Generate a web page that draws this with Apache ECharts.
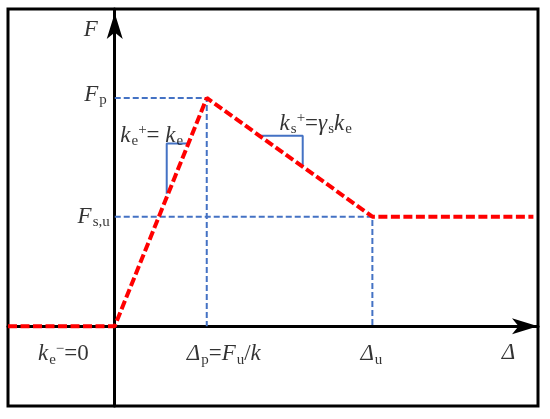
<!DOCTYPE html>
<html>
<head>
<meta charset="utf-8">
<script src="https://cdn.jsdelivr.net/npm/echarts@6/dist/echarts.min.js"></script>
<style>
  html, body { margin: 0; padding: 0; background: #fff; }
  #chart { width: 550px; height: 419px; }
</style>
</head>
<body>
<div id="chart"></div>
<script>
// force-displacement model (normalized: Δp = 1, Fp = 1)
const dispX = [-1.16, 0, 1.0, 2.8, 4.55]
const force = [0, 0, 1.0, 0.48, 0.48]
const deltaP = 1.0
const deltaU = 2.8
const forceP = 1.0
const forceSU = 0.48
const xRange = [-1.16, 4.6]
const yRange = [-0.35, 1.39]
// slope markers
const slopeUp = [[0.565, 0.58], [0.565, 0.8], [0.79, 0.8]]
const slopeDown = [[1.576, 0.834], [2.043, 0.834], [2.043, 0.7]]

const RED = '#ff0000'
const BLUE = '#4472c4'
const FONT = 'Liberation Serif'

const chart = echarts.init(document.getElementById('chart'))

const rich = {
  i: { fontStyle: 'italic', fontSize: 23, fontFamily: FONT, color: '#000' },
  n: { fontSize: 23, fontFamily: FONT, color: '#000' },
  sb: { fontSize: 15, fontFamily: FONT, color: '#000', padding: [11, 0, 0, 1] },
  sp: { fontSize: 15, fontFamily: FONT, color: '#000', padding: [0, 0, 11, 0] }
}

const curve = dispX.map((x, i) => [x, force[i]])

const notes = [
  { value: [0, yRange[1]], text: '{i|F}', position: 'left', offset: [-12, 21] },
  { value: [0, forceP], text: '{i|F}{sb|p}', position: 'left', offset: [-3, -3] },
  { value: [0, forceSU], text: '{i|F}{sb|s,u}', position: 'left', offset: [0, 0] },
  { value: [(dispX[0] + dispX[1]) / 2, 0], text: '{i|k}{sb|e}{sp|−}{n|=0}', position: 'bottom', offset: [2, 10] },
  { value: [deltaP, 0], text: '{i|Δ}{sb|p}{n|=}{i|F}{sb|u}{n|/}{i|k}', position: 'bottom', offset: [17, 10] },
  { value: [deltaU, 0], text: '{i|Δ}{sb|u}', position: 'bottom', offset: [-1, 10] },
  { value: [dispX[4], 0], text: '{i|Δ}', position: 'bottom', offset: [-25, 10] },
  { value: slopeUp[1], text: '{i|k}{sb|e}{sp|+}{n|= }{i|k}{sb|e}', position: 'top', offset: [-15, 10] },
  { value: slopeDown[1], text: '{i|k}{sb|s}{sp|+}{n|=}{i|γ}{sb|s}{i|k}{sb|e}', position: 'top', offset: [13, 6] }
]

const option = {
  backgroundColor: '#fff',
  animation: false,
  grid: {
    left: 8,
    right: 12,
    top: 9,
    bottom: 13,
    show: true,
    borderColor: '#000',
    borderWidth: 3
  },
  xAxis: {
    type: 'value',
    min: xRange[0],
    max: xRange[1],
    axisLine: {
      onZero: true,
      lineStyle: { color: '#000', width: 3 },
      symbol: ['none', 'arrow'],
      symbolSize: [12, 26],
      symbolOffset: [0, 0]
    },
    axisTick: { show: false },
    axisLabel: { show: false },
    splitLine: { show: false }
  },
  yAxis: {
    type: 'value',
    min: yRange[0],
    max: yRange[1],
    axisLine: {
      onZero: true,
      lineStyle: { color: '#000', width: 3 },
      symbol: ['none', 'arrow'],
      symbolSize: [12, 26],
      symbolOffset: [0, -4]
    },
    axisTick: { show: false },
    axisLabel: { show: false },
    splitLine: { show: false }
  },
  series: [
    {
      type: 'line',
      data: [[0, forceP], [deltaP, forceP], [deltaP, 0]],
      symbol: 'none',
      lineStyle: { color: BLUE, width: 2, type: [6, 3] },
      z: 3
    },
    {
      type: 'line',
      data: [[0, forceSU], [deltaU, forceSU], [deltaU, 0]],
      symbol: 'none',
      lineStyle: { color: BLUE, width: 2, type: [6, 3] },
      z: 3
    },
    {
      type: 'line',
      data: slopeUp,
      symbol: 'none',
      lineStyle: { color: BLUE, width: 2 },
      z: 3
    },
    {
      type: 'line',
      data: slopeDown,
      symbol: 'none',
      lineStyle: { color: BLUE, width: 2 },
      z: 3
    },
    {
      type: 'line',
      data: curve,
      symbol: 'none',
      lineStyle: { color: RED, width: 4, type: [9, 3.5] },
      z: 4
    },
    {
      type: 'scatter',
      symbolSize: 0,
      silent: true,
      label: {
        show: true,
        color: '#000',
        fontSize: 23,
        fontFamily: FONT,
        rich: rich
      },
      data: notes.map(n => ({
        value: n.value,
        label: {
          formatter: n.text,
          position: n.position,
          offset: n.offset
        }
      })),
      z: 5
    }
  ]
}

chart.setOption(option)
</script>
</body>
</html>
